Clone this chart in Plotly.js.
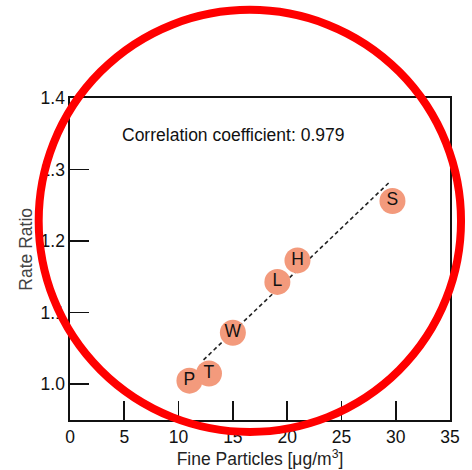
<!DOCTYPE html>
<html>
<head>
<meta charset="utf-8">
<script src="https://cdn.plot.ly/plotly-3.0.1.min.js"></script>
<style>
html,body{margin:0;padding:0;background:#fff;}
#chart{width:472px;height:470px;}
</style>
</head>
<body>
<div id="chart"></div>
<script>
// Data
const cities = ['P', 'T', 'W', 'L', 'H', 'S'];
const fineParticles = [11.0, 12.8, 15.0, 19.1, 20.95, 29.7];
const rateRatio = [1.005, 1.015, 1.072, 1.143, 1.173, 1.256];
const fitX = [12.3, 29.4];
const fitY = [1.034, 1.282];
const xTicks = [0, 5, 10, 15, 20, 25, 30, 35];
const yTicks = [1.0, 1.1, 1.2, 1.3, 1.4];
const yTickText = ['1.0', '1.1', '1.2', '1.3', '1.4'];
const correlationText = 'Correlation coefficient: 0.979';

const FONT = '"Liberation Sans", Arial, Helvetica, sans-serif';

const traces = [
  {
    x: fitX, y: fitY, type: 'scatter', mode: 'lines',
    line: {color: '#222', width: 1.6, dash: '4px,3px'},
    hoverinfo: 'skip', showlegend: false
  },
  {
    x: fineParticles, y: rateRatio, text: cities, type: 'scatter', mode: 'markers+text',
    marker: {size: 26, color: '#F39A7C', line: {width: 0}},
    textposition: 'middle center',
    textfont: {family: FONT, size: 17.5, color: '#111'},
    showlegend: false
  }
];

const axisCommon = {
  showgrid: false, zeroline: false,
  showline: true, linecolor: '#111', linewidth: 1.6, mirror: true,
  ticks: 'inside', ticklen: 19, tickwidth: 1.6, tickcolor: '#111',
  tickfont: {family: FONT, size: 17.5, color: '#111'}
};

const layout = {
  width: 472, height: 470,
  margin: {l: 70, r: 22, t: 98, b: 50},
  paper_bgcolor: '#fff', plot_bgcolor: '#fff',
  showlegend: false,
  xaxis: Object.assign({}, axisCommon, {
    range: [0, 35], tickvals: xTicks, ticktext: xTicks.map(String),
    title: {text: 'Fine Particles [μg/m<sup>3</sup>]', font: {family: FONT, size: 17.5, color: '#222'}, standoff: 4}
  }),
  yaxis: Object.assign({}, axisCommon, {
    range: [0.95, 1.4], tickvals: yTicks, ticktext: yTickText
  }),
  annotations: [
    {
      text: correlationText, xref: 'x', yref: 'y', x: 15.0, y: 1.348,
      showarrow: false, xanchor: 'center', yanchor: 'middle',
      font: {family: FONT, size: 17.5, color: '#111'}
    },
    {
      text: 'Rate Ratio', xref: 'paper', yref: 'paper', x: -0.115, y: 0.53,
      showarrow: false, textangle: -90, xanchor: 'center', yanchor: 'middle',
      font: {family: FONT, size: 17.5, color: '#444'}
    }
  ],
  shapes: [
    {
      type: 'circle', xref: 'paper', yref: 'paper', layer: 'above',
      x0: -0.0824, x1: 1.029, y0: -0.037, y1: 1.2737,
      line: {color: '#FF0000', width: 8}
    }
  ]
};

Plotly.newPlot('chart', traces, layout, {displayModeBar: false, staticPlot: true});
</script>
</body>
</html>
